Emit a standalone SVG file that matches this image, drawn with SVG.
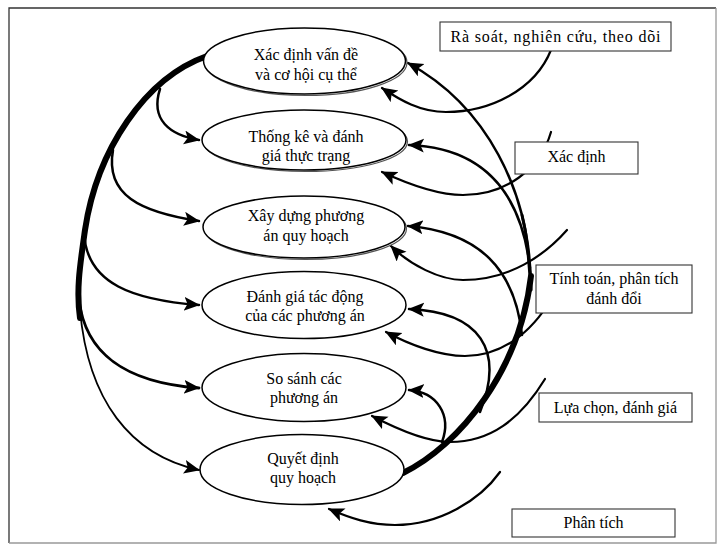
<svg xmlns="http://www.w3.org/2000/svg" width="726" height="552" viewBox="0 0 726 552">
<style>
.t{font-family:"Liberation Serif","Times New Roman",serif;font-size:16px;fill:#000;text-anchor:middle}
.e{fill:#fff;stroke:#000;stroke-width:1.5}
.sh{fill:none;stroke:#555;stroke-width:1.2}
.b{fill:#fff;stroke:#333;stroke-width:1.1}
.c{fill:none;stroke:#000;stroke-linecap:round}
</style>
<defs>
<marker id="ah" markerUnits="userSpaceOnUse" markerWidth="17" markerHeight="15" refX="15" refY="7" orient="auto">
<path d="M0,0 L16,7 L0,14 L3.5,7 z" fill="#000"/>
</marker>
</defs>
<rect x="9" y="8" width="707" height="535" fill="#fff" stroke="none"/>
<path d="M9 543 L9 8 L716 8" fill="none" stroke="#333" stroke-width="1.3"/>
<path d="M716 8 L716 543 L9 543" fill="none" stroke="#999" stroke-width="1.3"/>
<g id="connectors">
<path class="c" d="M207 56 C145 78 97 150 85 230 C80 265 76 290 80 318" stroke-width="6"/>
<path class="c" d="M160 89 C150 120 170 135 199 140" stroke-width="2.5" marker-end="url(#ah)"/>
<path class="c" d="M113 150 C105 195 140 212 199 221" stroke-width="2.5" marker-end="url(#ah)"/>
<path class="c" d="M84 232 C86 285 135 300 199 305" stroke-width="2.5" marker-end="url(#ah)"/>
<path class="c" d="M79 300 C85 350 120 382 199 388" stroke-width="2.8" marker-end="url(#ah)"/>
<path class="c" d="M80 310 C88 400 130 455 199 470" stroke-width="1.8" marker-end="url(#ah)"/>
<path class="c" d="M403 473 C460 445 520 370 531 276" stroke-width="6"/>
<path class="c" d="M531 290 C531 190 485 105 408 63" stroke-width="2.5" marker-end="url(#ah)"/>
<path class="c" d="M531 290 C528 250 527 235 522 215" stroke-width="3"/>
<path class="c" d="M530 268 C522 200 490 148 409 145" stroke-width="2.5" marker-end="url(#ah)"/>
<path class="c" d="M522 335 C515 270 480 232 408 226" stroke-width="2.5" marker-end="url(#ah)"/>
<path class="c" d="M480 412 C505 350 480 312 409 309" stroke-width="2.5" marker-end="url(#ah)"/>
<path class="c" d="M442 442 C452 415 437 392 409 390" stroke-width="2.5" marker-end="url(#ah)"/>
<path class="c" d="M551 50 C535 90 490 112 446 112 C420 112 400 100 382 88" stroke-width="2.2" marker-end="url(#ah)"/>
<path class="c" d="M551 132 C540 170 505 195 463 195 C440 195 410 185 382 172" stroke-width="2.2" marker-end="url(#ah)"/>
<path class="c" d="M567 230 C545 255 510 280 463 280 C440 280 410 265 391 246" stroke-width="2.2" marker-end="url(#ah)"/>
<path class="c" d="M552 298 C530 335 500 356 465 356 C440 356 410 345 386 332" stroke-width="2.2" marker-end="url(#ah)"/>
<path class="c" d="M545 379 C520 420 490 442 450 442 C425 442 395 428 372 416" stroke-width="2.2" marker-end="url(#ah)"/>
<path class="c" d="M500 472 C480 500 440 525 395 525 C370 525 350 518 329 509" stroke-width="2.2" marker-end="url(#ah)"/>
</g>
<g id="n1">
<ellipse class="sh" cx="306" cy="62.5" rx="101" ry="33"/>
<ellipse class="e" cx="304.5" cy="61" rx="101" ry="33"/>
<text class="t" x="306" y="59.5">Xác định vấn đề</text>
<text class="t" x="306" y="79.5">và cơ hội cụ thể</text>
</g>
<g id="n2">
<ellipse class="sh" cx="305.5" cy="141.5" rx="102" ry="30"/>
<ellipse class="e" cx="304" cy="140" rx="102" ry="30"/>
<text class="t" x="306" y="141.5">Thống kê và đánh</text>
<text class="t" x="306" y="161">giá thực trạng</text>
</g>
<g id="n3">
<ellipse class="sh" cx="305.5" cy="228.5" rx="101" ry="31"/>
<ellipse class="e" cx="304" cy="227" rx="101" ry="31"/>
<text class="t" x="306" y="221">Xây dựng phương</text>
<text class="t" x="306" y="240.5">án quy hoạch</text>
</g>
<g id="n4">
<ellipse class="e" cx="304" cy="305" rx="102" ry="33.5"/>
<text class="t" x="305" y="301.5">Đánh giá tác động</text>
<text class="t" x="305" y="321">của các phương án</text>
</g>
<g id="n5">
<ellipse class="e" cx="304" cy="387.5" rx="102" ry="34"/>
<text class="t" x="304" y="383.5">So sánh các</text>
<text class="t" x="304" y="403">phương án</text>
</g>
<g id="n6">
<ellipse class="e" cx="302" cy="469.5" rx="102" ry="35"/>
<text class="t" x="303" y="463.5">Quyết định</text>
<text class="t" x="303" y="483">quy hoạch</text>
</g>
<g id="b1">
<rect class="b" x="440" y="22" width="231" height="29"/>
<text class="t" x="555.5" y="42" textLength="210" lengthAdjust="spacing">Rà soát, nghiên cứu, theo dõi</text>
</g>
<g id="b2">
<rect class="b" x="515" y="142" width="123" height="32"/>
<text class="t" x="576.5" y="161.5">Xác định</text>
</g>
<g id="b3">
<rect class="b" x="536" y="265" width="156" height="48"/>
<text class="t" x="614" y="284">Tính toán, phân tích</text>
<text class="t" x="614" y="304">đánh đổi</text>
</g>
<g id="b4">
<rect class="b" x="539" y="393" width="153" height="29"/>
<text class="t" x="615.5" y="413">Lựa chọn, đánh giá</text>
</g>
<g id="b5">
<rect class="b" x="512" y="509" width="163" height="28"/>
<text class="t" x="593.5" y="528">Phân tích</text>
</g>
</svg>
